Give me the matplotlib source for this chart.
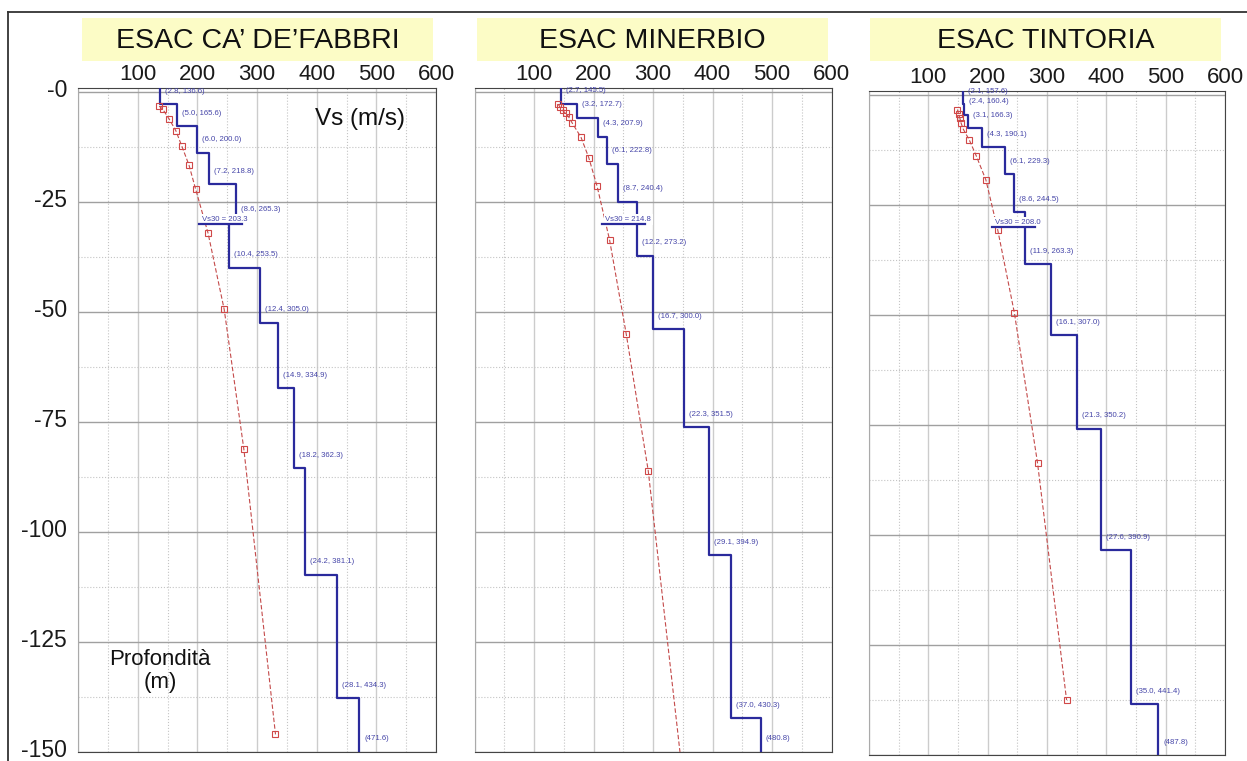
import numpy as np
import matplotlib
matplotlib.use("Agg")
import matplotlib.pyplot as plt
import matplotlib.transforms as mtransforms
from matplotlib.patches import Rectangle
from matplotlib.lines import Line2D

plt.rcParams['font.family'] = ['Liberation Sans', 'DejaVu Sans']

# ---- data ----
# layer thickness (m) and Vs (m/s); last Vs is the half-space
caf_thick = [2.8, 5.0, 6.0, 7.2, 8.6, 10.4, 12.4, 14.9, 18.2, 24.2, 28.1]
caf_vs = [136.6, 165.6, 200.0, 218.8, 265.3, 253.5, 305.0, 334.9, 362.3, 381.1, 434.3, 471.6]
caf_vs30 = 203.3
caf_red_vs = [136, 142, 153, 164, 174, 186, 197, 218, 245, 278, 331]
caf_red_depth = [3.2, 3.9, 6.2, 8.8, 12.3, 16.6, 22.0, 32.1, 49.4, 81.2, 146.0]

min_thick = [2.7, 3.2, 4.3, 6.1, 8.7, 12.2, 16.7, 22.3, 29.1, 37.0]
min_vs = [145.5, 172.7, 207.9, 222.8, 240.4, 273.2, 300.0, 351.5, 394.9, 430.3, 480.8]
min_vs30 = 214.8
min_red_vs = [141, 144, 148, 153, 158, 164, 179, 192, 206, 227, 255, 292, 352]
min_red_depth = [2.8, 3.5, 4.2, 4.8, 5.6, 7.0, 10.3, 14.9, 21.4, 33.6, 55.0, 86.1, 158.0]

tin_thick = [2.1, 2.4, 3.1, 4.3, 6.1, 8.6, 11.9, 16.1, 21.3, 27.6, 35.0]
tin_vs = [157.6, 160.4, 166.3, 190.1, 229.3, 244.5, 263.3, 307.0, 350.2, 390.9, 441.4, 487.8]
tin_vs30 = 208.0
tin_red_vs = [149, 151, 153, 155, 159, 169, 181, 197, 217, 245, 284, 333]
tin_red_depth = [3.3, 4.4, 5.2, 6.3, 7.8, 10.2, 13.9, 19.3, 30.7, 49.5, 83.6, 137.5]

titles = ["ESAC CA\u2019 DE\u2019FABBRI", "ESAC MINERBIO", "ESAC TINTORIA"]
x_ticks = [0, 100, 200, 300, 400, 500, 600]
y_ticks = [0, -25, -50, -75, -100, -125, -150]

W, H = 1247, 761
fig = plt.figure(figsize=(W / 100, H / 100), dpi=100)


def fx(px):
    return px / W


def fy(py):
    return 1 - py / H


# outer frame of the composite
fig.add_artist(Line2D([fx(8), 1], [fy(12), fy(12)], color='#333333', lw=1.3))
fig.add_artist(Line2D([fx(8), fx(8)], [fy(12), 0], color='#333333', lw=1.3))

# left px, top px, bottom px, width px, title box x0, x1
layout = [
    (78, 87.6, 752, 358, 82, 433),
    (474.5, 87.6, 752, 357, 477, 828),
    (869, 90.6, 755, 356, 870, 1221),
]
series = [
    (caf_thick, caf_vs, caf_vs30, caf_red_vs, caf_red_depth),
    (min_thick, min_vs, min_vs30, min_red_vs, min_red_depth),
    (tin_thick, tin_vs, tin_vs30, tin_red_vs, tin_red_depth),
]

blue = '#2a2a9c'
lab_blue = '#4545a8'
lift = mtransforms.ScaledTranslation(0, 4 / 100, fig.dpi_scale_trans)

for k, ((thick, vs, vs30, rvs, rdep), (lx, ty, by, wd, bx0, bx1)) in enumerate(zip(series, layout)):
    ax = fig.add_axes([fx(lx), fy(by), wd / W, (by - ty) / H])
    ax.set_xlim(0, 600)
    ax.set_ylim(-150, 1)

    # grid
    ax.set_xticks(x_ticks)
    ax.set_xticks(np.arange(50, 600, 100), minor=True)
    ax.set_yticks(y_ticks)
    ax.set_yticks(np.arange(-12.5, -150, -25), minor=True)
    ax.grid(which='major', axis='x', color='#cccccc', lw=1.0)
    ax.grid(which='major', axis='y', color='#a0a0a0', lw=1.0)
    ax.grid(which='minor', color='#c4c4c4', lw=0.8, ls=':')
    ax.set_axisbelow(True)

    ax.xaxis.tick_top()
    ax.tick_params(which='both', length=0)
    ax.tick_params(axis='x', labelsize=16, pad=2, labelcolor='#1a1a1a')
    ax.set_xticklabels([''] + [str(v) for v in x_ticks[1:]])
    if k == 0:
        ax.tick_params(axis='y', labelsize=16.5, pad=8, labelcolor='#1a1a1a')
        ax.set_yticklabels(['-0'] + [str(v) for v in y_ticks[1:]])
        for lab in ax.get_yticklabels():
            lab.set_transform(lab.get_transform() + lift)
    else:
        ax.set_yticklabels([])

    for s in ['top', 'bottom', 'right']:
        ax.spines[s].set_color('#444444')
    ax.spines['left'].set_color('#aaaaaa')

    # layered Vs profile (steps)
    bottoms = np.cumsum(thick)
    tops = np.concatenate([[-1.0], bottoms])
    ends = np.concatenate([bottoms, [170.0]])
    xs = np.repeat(vs, 2)
    ys = np.ravel(np.column_stack([tops, ends]))
    ax.plot(xs, -ys, color=blue, lw=1.6, zorder=3)

    # layer labels, placed just above the bottom of each layer
    for i, v in enumerate(vs):
        if i < len(thick):
            txt = "(%.1f, %.1f)" % (thick[i], v)
            yb = -bottoms[i]
        else:
            txt = "(%.1f)" % v
            yb = -150
        ax.annotate(txt, (v, yb), xytext=(5, 13), textcoords='offset pixels',
                    fontsize=5.6, color=lab_blue, va='center', ha='left', zorder=5)

    # Vs30 marker
    ax.annotate("Vs30 = %.1f" % vs30, (vs30, -30), xytext=(3, 1), textcoords='offset pixels',
                fontsize=5.6, color=lab_blue, va='bottom', ha='left', zorder=4,
                bbox=dict(fc='white', ec='none', pad=1.2))
    ax.plot([vs30, vs30 + 72], [-30, -30], color=blue, lw=1.6, zorder=5)

    # red dashed curve with square markers
    ax.plot(rvs, -np.array(rdep), color='#c44a4a', lw=0.8, ls=(0, (4, 2)),
            marker='s', ms=4, mfc='none', mec='#d04848', mew=0.8, zorder=3)

    # title box
    fig.add_artist(Rectangle((fx(bx0), fy(61)), (bx1 - bx0) / W, 43 / H,
                             transform=fig.transFigure, fc='#fcfcc6', ec='none'))
    fig.text(fx((bx0 + bx1) / 2), fy(41), titles[k], fontsize=20.5, ha='center', va='center',
             color='#111111')

fig.text(fx(360), fy(119), "Vs (m/s)", fontsize=17.5, ha='center', va='center', color='#111111')
fig.text(fx(160), fy(671), "Profondit\u00e0\n(m)", fontsize=16, ha='center', va='center',
         color='#111111', linespacing=1.1)

fig.savefig("out.png", dpi=100)
